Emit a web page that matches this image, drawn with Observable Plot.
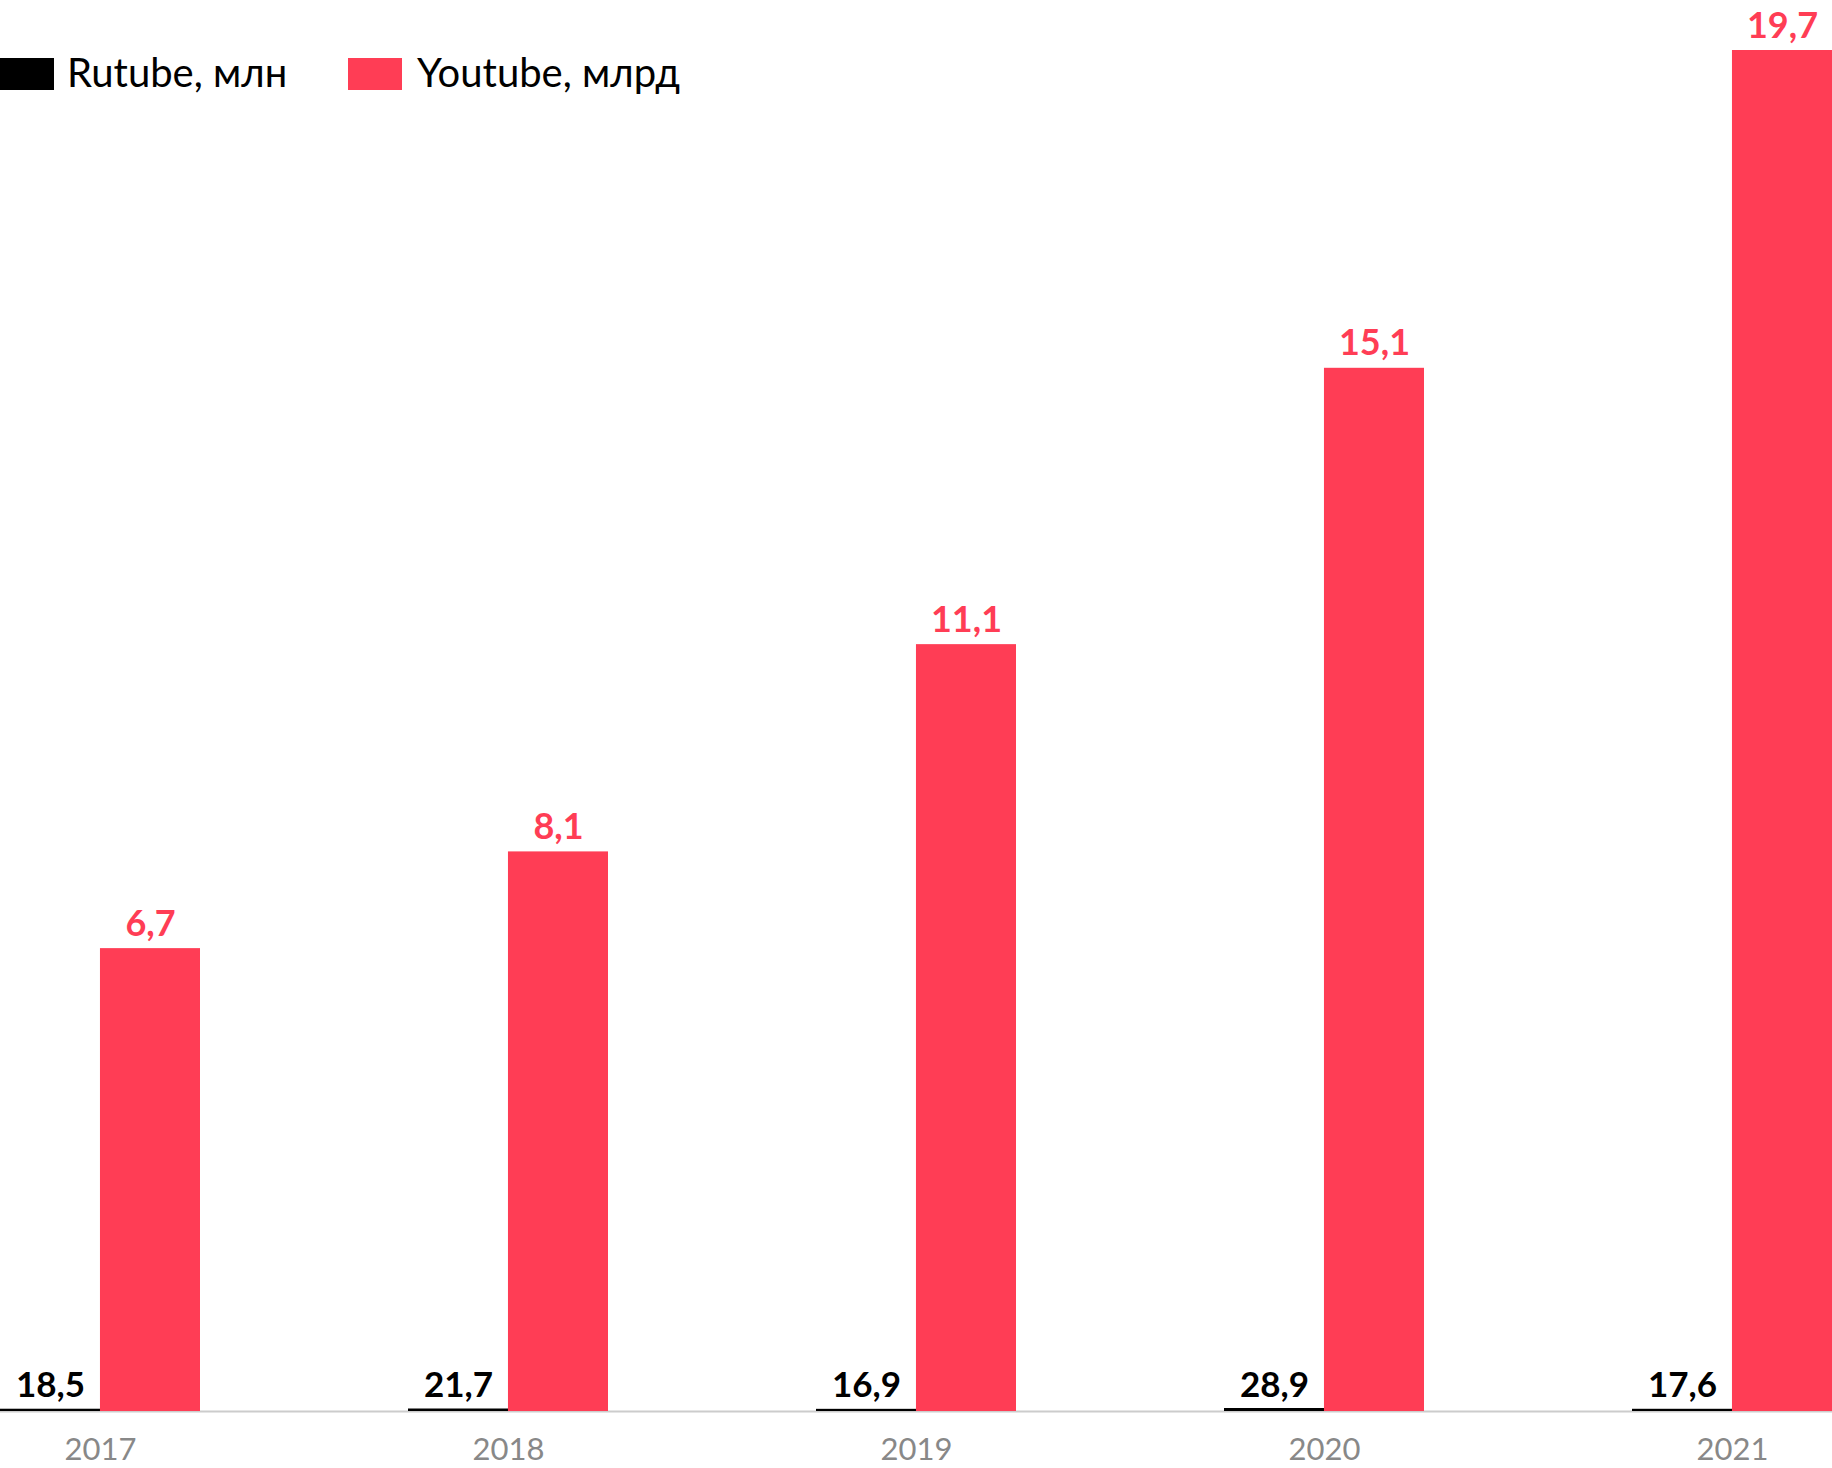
<!DOCTYPE html>
<html>
<head>
<meta charset="utf-8">
<script src="https://cdn.jsdelivr.net/npm/d3@7"></script>
<script src="https://cdn.jsdelivr.net/npm/@observablehq/plot@0.6"></script>
<style>
  html, body { margin: 0; padding: 0; background: #fff; }
  #wrap { position: relative; width: 1832px; height: 1468px; font-family: Lato, "Open Sans", sans-serif; }
  .lg-rect { position: absolute; top: 58px; width: 54px; height: 32px; }
  .lg-text { position: absolute; top: 52px; font-size: 40px; line-height: 40px; color: #000; font-weight: 400; white-space: nowrap; }
</style>
</head>
<body>
<div id="wrap">
  <div id="chart"></div>
  <div id="legend"></div>
</div>
<script>
// ---- data ----
const years = ["2017", "2018", "2019", "2020", "2021"];
const rutube = [18.5, 21.7, 16.9, 28.9, 17.6];   // млн
const youtube = [6.7, 8.1, 11.1, 15.1, 19.7];    // млрд
const seriesLabels = ["Rutube, млн", "Youtube, млрд"];
const seriesColors = ["#000000", "#ff3d55"];

// ---- tables ----
const rutubeRows = years.map((y, i) => ({year: y, value: rutube[i], bln: rutube[i] / 1000}));
const youtubeRows = years.map((y, i) => ({year: y, value: youtube[i]}));
const fmt = v => v.toFixed(1).replace(".", ",");

const W = 1832, H = 1468;
const padInner = 0.51;
const band = d3.scaleBand().domain(years).range([0, W]).paddingInner(padInner).paddingOuter(0).bandwidth();
const half = band / 2;

const chart = Plot.plot({
  width: W,
  height: H,
  marginLeft: 0,
  marginRight: 0,
  marginTop: 50,
  marginBottom: 57,
  style: {fontFamily: "Lato, 'Open Sans', sans-serif", fontSize: "31px", fontWeight: 400, color: "#888", background: "#fff", overflow: "visible"},
  x: {domain: years, paddingInner: padInner, paddingOuter: 0, tickSize: 0, tickPadding: 26, label: null},
  y: {domain: [0, 19.7], axis: null},
  marks: [
    Plot.ruleY([0], {stroke: "#cccccc", strokeWidth: 2}),
    Plot.barY(rutubeRows, {x: "year", y: "bln", fill: seriesColors[0], insetRight: half, insetTop: -1}),
    Plot.barY(youtubeRows, {x: "year", y: "value", fill: seriesColors[1], insetLeft: half}),
    Plot.text(rutubeRows, {x: "year", y: 0, text: d => fmt(d.value), dx: -half / 2, dy: -15, lineAnchor: "bottom",
      fill: seriesColors[0], fontSize: 35, fontWeight: 700}),
    Plot.text(youtubeRows, {x: "year", y: "value", text: d => fmt(d.value), dx: half / 2, dy: -13, lineAnchor: "bottom",
      fill: seriesColors[1], fontSize: 36, fontWeight: 700})
  ]
});
document.getElementById("chart").appendChild(chart);

// ---- legend ----
const legend = document.getElementById("legend");
const lgLeft = [0, 348];
seriesLabels.forEach((lab, i) => {
  const r = document.createElement("div");
  r.className = "lg-rect";
  r.style.left = lgLeft[i] + "px";
  r.style.background = seriesColors[i];
  legend.appendChild(r);
  const t = document.createElement("div");
  t.className = "lg-text";
  t.style.left = (lgLeft[i] + (i === 0 ? 67 : 69)) + "px";
  t.textContent = lab;
  legend.appendChild(t);
});
</script>
</body>
</html>
